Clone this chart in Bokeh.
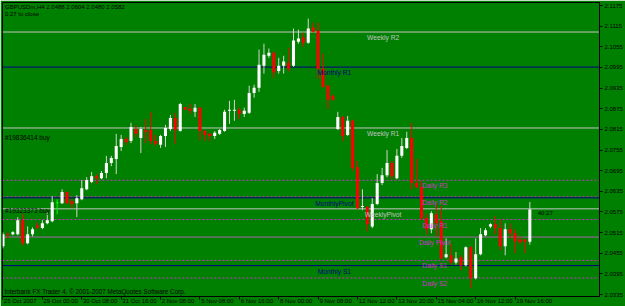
from bokeh.plotting import figure
from bokeh.models import Range1d, LinearAxis, FixedTicker, Label, Span, PrintfTickFormatter, ColumnDataSource
from bokeh.core.properties import value
from bokeh.embed import file_html
from bokeh.resources import INLINE

# ---------------- data (GBPUSDm, H4) ----------------
opens = [2.0475, 2.0510, 2.0510, 2.0510, 2.0551, 2.0484, 2.0510, 2.0536, 2.0528, 2.0542,
         2.0548, 2.0603, 2.0600, 2.0633, 2.0606, 2.0600, 2.0612, 2.0641, 2.0662, 2.0679,
         2.0673, 2.0688, 2.0717, 2.0729, 2.0764, 2.0787, 2.0781, 2.0816, 2.0790, 2.0813,
         2.0813, 2.0781, 2.0770, 2.0796, 2.0816, 2.0848, 2.0810, 2.0880, 2.0875, 2.0866,
         2.0878, 2.0810, 2.0802, 2.0796, 2.0802, 2.0810, 2.0869, 2.0869, 2.0872, 2.0860,
         2.0863, 2.0921, 2.0936, 2.1000, 2.1029, 2.1038, 2.0985, 2.1000, 2.1009, 2.1000,
         2.1070, 2.1082, 2.1067, 2.1111, 2.1102, 2.0991, 2.0942, 2.0913, 2.0816, 2.0851,
         2.0799, 2.0840, 2.0705, 2.0589, 2.0589, 2.0533, 2.0598, 2.0659, 2.0682, 2.0717,
         2.0673, 2.0738, 2.0761, 2.0790, 2.0659, 2.0647, 2.0557, 2.0525, 2.0568, 2.0548,
         2.0443, 2.0449, 2.0428, 2.0443, 2.0420, 2.0472, 2.0382, 2.0452, 2.0507, 2.0533,
         2.0539, 2.0528, 2.0475, 2.0525, 2.0513, 2.0495, 2.0495, 2.0488]
highs = [2.0516, 2.0516, 2.0519, 2.0560, 2.0568, 2.0533, 2.0530, 2.0545, 2.0551, 2.0574,
         2.0621, 2.0612, 2.0641, 2.0635, 2.0612, 2.0624, 2.0668, 2.0676, 2.0691, 2.0685,
         2.0694, 2.0738, 2.0738, 2.0802, 2.0799, 2.0793, 2.0834, 2.0828, 2.0822, 2.0845,
         2.0866, 2.0799, 2.0799, 2.0828, 2.0857, 2.0863, 2.0892, 2.0880, 2.0889, 2.0889,
         2.0880, 2.0813, 2.0805, 2.0810, 2.0816, 2.0872, 2.0898, 2.0901, 2.0878, 2.0878,
         2.0942, 2.0945, 2.1047, 2.1064, 2.1050, 2.1041, 2.1023, 2.1029, 2.1052, 2.1108,
         2.1105, 2.1096, 2.1137, 2.1125, 2.1125, 2.1035, 2.0945, 2.0915, 2.0866, 2.0854,
         2.0854, 2.0843, 2.0723, 2.0641, 2.0592, 2.0615, 2.0685, 2.0703, 2.0755, 2.0723,
         2.0758, 2.0790, 2.0808, 2.0834, 2.0729, 2.0665, 2.0568, 2.0577, 2.0600, 2.0592,
         2.0498, 2.0481, 2.0458, 2.0449, 2.0475, 2.0475, 2.0498, 2.0528, 2.0528, 2.0542,
         2.0563, 2.0554, 2.0542, 2.0542, 2.0525, 2.0504, 2.0495, 2.0604]
lows = [2.0469, 2.0498, 2.0507, 2.0507, 2.0478, 2.0481, 2.0504, 2.0525, 2.0525, 2.0539,
        2.0545, 2.0568, 2.0598, 2.0598, 2.0586, 2.0560, 2.0609, 2.0638, 2.0659, 2.0656,
        2.0670, 2.0673, 2.0708, 2.0685, 2.0752, 2.0770, 2.0775, 2.0793, 2.0746, 2.0775,
        2.0773, 2.0767, 2.0761, 2.0764, 2.0810, 2.0773, 2.0808, 2.0872, 2.0860, 2.0851,
        2.0784, 2.0781, 2.0781, 2.0787, 2.0799, 2.0808, 2.0831, 2.0840, 2.0845, 2.0851,
        2.0860, 2.0907, 2.0924, 2.0977, 2.1023, 2.0965, 2.0977, 2.0977, 2.0983, 2.0997,
        2.1064, 2.1055, 2.1064, 2.1096, 2.0962, 2.0936, 2.0875, 2.0898, 2.0813, 2.0781,
        2.0796, 2.0694, 2.0583, 2.0580, 2.0519, 2.0528, 2.0595, 2.0653, 2.0676, 2.0670,
        2.0670, 2.0732, 2.0758, 2.0641, 2.0644, 2.0551, 2.0510, 2.0513, 2.0504, 2.0437,
        2.0440, 2.0422, 2.0422, 2.0405, 2.0417, 2.0353, 2.0379, 2.0449, 2.0504, 2.0528,
        2.0510, 2.0463, 2.0449, 2.0498, 2.0455, 2.0481, 2.0455, 2.0480]
closes = [2.0510, 2.0507, 2.0516, 2.0551, 2.0484, 2.0510, 2.0525, 2.0530, 2.0542, 2.0551,
          2.0603, 2.0603, 2.0633, 2.0600, 2.0598, 2.0615, 2.0644, 2.0668, 2.0679, 2.0673,
          2.0688, 2.0717, 2.0732, 2.0767, 2.0787, 2.0778, 2.0822, 2.0802, 2.0816, 2.0808,
          2.0781, 2.0773, 2.0796, 2.0819, 2.0848, 2.0813, 2.0889, 2.0872, 2.0869, 2.0878,
          2.0810, 2.0799, 2.0796, 2.0805, 2.0813, 2.0866, 2.0872, 2.0872, 2.0860, 2.0869,
          2.0921, 2.0936, 2.1003, 2.1032, 2.1038, 2.0980, 2.1000, 2.1012, 2.0991, 2.1073,
          2.1079, 2.1067, 2.1108, 2.1099, 2.0991, 2.0939, 2.0901, 2.0901, 2.0851, 2.0796,
          2.0840, 2.0703, 2.0586, 2.0592, 2.0539, 2.0598, 2.0659, 2.0682, 2.0717, 2.0679,
          2.0738, 2.0767, 2.0790, 2.0659, 2.0647, 2.0557, 2.0525, 2.0571, 2.0542, 2.0440,
          2.0452, 2.0428, 2.0440, 2.0420, 2.0472, 2.0382, 2.0452, 2.0510, 2.0522, 2.0539,
          2.0528, 2.0475, 2.0525, 2.0513, 2.0490, 2.0487, 2.0488, 2.0582]

# time axis labels (every 8 bars)
time_tick_bars = [0, 8, 16, 24, 32, 40, 48, 56, 64, 72, 80, 88, 96, 104]
time_tick_labels = ["25 Oct 2007", "29 Oct 00:00", "30 Oct 08:00", "31 Oct 16:00", "2 Nov 08:00",
                    "5 Nov 08:00", "6 Nov 16:00", "8 Nov 00:00", "9 Nov 08:00", "12 Nov 12:00",
                    "13 Nov 20:00", "15 Nov 04:00", "16 Nov 12:00", "19 Nov 16:00"]

price_ticks = [2.1175, 2.1115, 2.1055, 2.0995, 2.0935, 2.0875, 2.0815, 2.0755, 2.0695,
               2.0635, 2.0575, 2.0515, 2.0455, 2.0395, 2.0335]

# pivot levels
level_names = ["Weekly R2", "Monthly R1", "Weekly R1", "Daily R3", "Daily R2", "MonthlyPivot",
               "WeeklyPivot", "Daily R1", "Daily Pivot", "Daily S1", "Monthly S1", "Daily S2"]
level_values = [2.1098, 2.0996, 2.0819, 2.0667, 2.0619, 2.0616, 2.0584, 2.0553, 2.0502,
                2.0434, 2.0419, 2.0383]
level_kind = ["weekly", "monthly", "weekly", "daily", "daily", "monthly", "weekly", "daily",
              "pivot", "daily", "monthly", "daily"]

# price tags shown on the right scale
tag_values = [2.1098, 2.0996, 2.0819, 2.0667, 2.0616, 2.0582, 2.0553, 2.0502, 2.0434, 2.0419, 2.0383]
tag_kind = ["weekly", "monthly", "weekly", "daily", "monthly", "weekly", "daily", "pivot", "daily",
            "monthly", "daily"]

# ---------------- styles ----------------
GREEN = "#008000"
FONT = "Liberation Sans"
AXIS_PX = 6.0
line_style = {
    "weekly": dict(color="#c4c4c4", dash="solid", text="#c4c4c4"),
    "monthly": dict(color="#000080", dash="solid", text="#000080"),
    "daily": dict(color="#cc33cc", dash="2 2", text="#cc33cc"),
    "pivot": dict(color="#a865a8", dash="solid", text="#cc33cc"),
}
tag_style = {
    "weekly": ("#c4c4c4", "#000000"),
    "monthly": ("#000080", "#7f9fff"),
    "daily": ("#c832c8", "#f4c4f4"),
    "pivot": ("#c832c8", "#f4c4f4"),
}
label_center = {"weekly": 77.2, "monthly": 67.3, "daily": 87.7, "pivot": 87.7}

PX_PER_BAR = 4.94
PX_PER_PRICE = 3428.6
X0, X1 = -0.1, 121.15
Y0, Y1 = 2.03292, 2.11838

p = figure(width=625, height=306, output_backend="svg", toolbar_location=None,
           x_range=Range1d(X0, X1), y_range=Range1d(Y0, Y1),
           x_axis_location=None, y_axis_location=None,
           min_border_left=2, min_border_top=2, min_border_right=0, min_border_bottom=0)
p.title = None
p.background_fill_color = GREEN
p.border_fill_color = GREEN
p.outline_line_color = "black"
p.outline_line_width = 1
p.xgrid.visible = False
p.ygrid.visible = False

# time labels start at their tick (terminal style): the axis centres labels,
# so pad each on the left with no-break spaces as wide as the text itself.
EM = {"0": .556, "1": .556, "2": .556, "3": .556, "4": .556, "5": .556, "6": .556,
      "7": .556, "8": .556, "9": .556, " ": .278, ":": .278, "O": .778, "c": .5, "t": .278,
      "N": .722, "o": .556, "v": .5}
def left_anchor(text, first=False):
    if first:  # the first label is pushed inside the canvas by the layout anyway
        return "\u00a0\u00a0" + text
    w = sum(EM.get(ch, .55) for ch in text) + 2.0 / AXIS_PX
    return "\u00a0" * int(round(w / .278)) + text

# axes
yaxis = LinearAxis(ticker=FixedTicker(ticks=price_ticks), formatter=PrintfTickFormatter(format="%.4f"))
xaxis = LinearAxis(ticker=FixedTicker(ticks=time_tick_bars),
                   major_label_overrides={b: left_anchor(t, i == 0) for i, (b, t) in
                                          enumerate(zip(time_tick_bars, time_tick_labels))})
for ax in (yaxis, xaxis):
    ax.axis_line_color = "black"
    ax.major_tick_line_color = "black"
    ax.major_tick_in = 0
    ax.major_tick_out = 3
    ax.minor_tick_in = 0
    ax.minor_tick_out = 0
    ax.major_label_text_font = FONT
    ax.major_label_text_font_size = f"{AXIS_PX}px"
    ax.major_label_text_color = "black"
yaxis.major_label_standoff = 2
xaxis.major_label_standoff = -2
p.add_layout(yaxis, "right")
p.add_layout(xaxis, "below")

# level lines
for v, k in zip(level_values, level_kind):
    st = line_style[k]
    p.add_layout(Span(location=v, dimension="width", line_color=st["color"],
                      line_dash=st["dash"], line_width=1, level="underlay"))

# candles
idx = list(range(len(opens)))
tops, bots, body_col, wick_col = [], [], [], []
for o, c in zip(opens, closes):
    t, b = max(o, c), min(o, c)
    if t - b < 0.0003:
        b = t - 0.0003
    tops.append(t)
    bots.append(b)
    if c > o:
        body_col.append("#ffffff"); wick_col.append("#d4d4d4")
    elif c < o:
        body_col.append("#ff0000"); wick_col.append("#ff0000")
    else:
        body_col.append("#00ff00"); wick_col.append("#00ff00")
src = ColumnDataSource(dict(x=idx, h=highs, l=lows, top=tops, bot=bots, bc=body_col, wc=wick_col))
p.segment(x0="x", y0="l", x1="x", y1="h", line_color="wc", line_width=1, source=src)
p.vbar(x="x", width=0.62, top="top", bottom="bot", fill_color="bc", line_color=None, source=src)

# level names
lsrc = ColumnDataSource(dict(
    x=[label_center[k] for k in level_kind], y=level_values, t=level_names,
    c=[line_style[k]["text"] for k in level_kind]))
p.text(x="x", y="y", text="t", text_color="c", source=lsrc, text_align="center",
       text_baseline="top", y_offset=2, text_font=value(FONT), text_font_size="6.7px")

# price tags on the right scale
tag_x = X1 + 1.5 / PX_PER_BAR
for v, k in zip(tag_values, tag_kind):
    bg, fg = tag_style[k]
    p.add_layout(Label(x=tag_x, y=v, text=f"{v:.4f}", text_font=FONT, text_font_size="6px",
                       text_baseline="middle", text_align="left", text_color=fg,
                       background_fill_color=bg, padding=1))

# chart texts
def px_to_price(py):
    return Y1 - (py - 2) / PX_PER_PRICE

texts = [
    ("GBPUSDm,H4  2.0488 2.0604 2.0480 2.0582", 0.4, px_to_price(3), "6px"),
    ("0:27 to close", 0.4, px_to_price(10), "6px"),
    ("#19836414 buy", 0.4, px_to_price(133), "6.5px"),
    ("#19323373 buy", 0.4, px_to_price(206), "6.5px"),
    ("40:27", 108.6, 2.0582, "6px"),
    ("Interbank FX Trader 4, \u00a9 2001-2007 MetaQuotes Software Corp.", 0.3, px_to_price(287), "6.3px"),
]
tsrc = ColumnDataSource(dict(x=[t[1] for t in texts], y=[t[2] for t in texts],
                             t=[t[0] for t in texts], s=[t[3] for t in texts]))
p.text(x="x", y="y", text="t", source=tsrc, text_color="black", text_align="left",
       text_baseline="top", text_font=value(FONT), text_font_size="s")

open("out.html", "w").write(file_html(p, INLINE))
